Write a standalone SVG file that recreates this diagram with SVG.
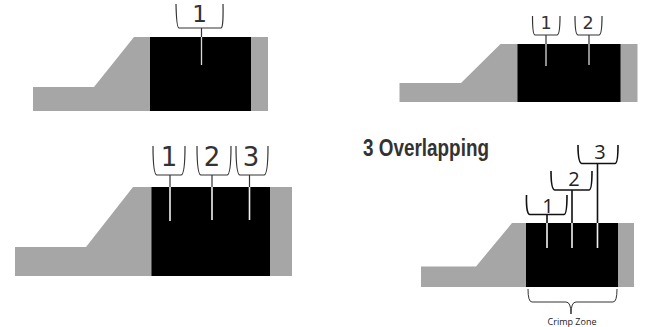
<svg xmlns="http://www.w3.org/2000/svg" width="645" height="327" viewBox="0 0 645 327">
<style>
.g{fill:#a6a6a6}
.b{fill:#000}
.w{stroke:#d9d9d9;stroke-width:1.3;fill:none}
.w2{stroke:#f0f0f0;stroke-width:1.6;fill:none}
.s{stroke:#333;stroke-width:1.2;fill:none}
.k{stroke:#111;stroke-width:1.6;fill:none}
.c{stroke:#333;stroke-width:1;fill:none}
.d{font-family:"DejaVu Sans",sans-serif;fill:#333;text-anchor:middle}
.o{font-family:"Open Sans",sans-serif;fill:#222;text-anchor:middle}
</style>
<rect width="645" height="327" fill="#fff"/>
<g id="crimp-1">
<path class="g" d="M33 87H94L134 37H268V111H33Z"/>
<rect class="b" x="150" y="37" width="101" height="74"/>
<path class="w" d="M201.500 37V65"/>
</g>
<g id="crimp-2">
<path class="g" d="M399.500 83H461L500.500 44H637.500V102H399.500Z"/>
<rect class="b" x="517.500" y="44" width="103" height="58"/>
<path class="w" d="M546 44V66M589 44V65"/>
</g>
<g id="crimp-3">
<path class="g" d="M15 247H86L133 187H292V276H15Z"/>
<rect class="b" x="151.500" y="187" width="118.500" height="89"/>
<path class="w2" d="M170 187V221M212 187V220M249.500 187V220"/>
</g>
<g id="crimp-4">
<path class="g" d="M421 266.500H476L512 223H634V287H421Z"/>
<rect class="b" x="526" y="223" width="92" height="64"/>
<path class="w2" d="M547 223V248M572 223V248M597.500 223V248"/>
</g>
<g id="connectors">
<path class="s" d="M176 4Q176.500 28 179 28H221Q223.500 28 223 4M201.500 28V37"/>
<path class="s" d="M532.500 16Q532.500 35 535 35H557Q560 35 560 16M546 35V44"/>
<path class="s" d="M575 16Q575 35 578 35H599Q602 35 602 16M589 35V44"/>
<path class="s" d="M153 146Q153 175 157 175H181Q185 175 185 146M170 175V187"/>
<path class="s" d="M197 146Q197 175 201 175H227Q231 175 231 146M212 175V187"/>
<path class="s" d="M236 146Q236 175 240 175H264Q268 175 268 146M249.500 175V187"/>
<path class="k" d="M526.500 195Q526 214.500 530 214.500H564Q567 214.500 567 195M547 214.500V223"/>
<path class="k" d="M551 171Q551 190 555 190H589Q592 190 592 171M572 190V223"/>
<path class="k" d="M578 145Q578 163.500 582 163.500H615Q618 163.500 618 145M597.500 163.500V223"/>
<path class="c" d="M528 289Q528 302 532 302H566Q571 302 571 314Q571 302 576 302H613Q617 302 617 289"/>
</g>
<g id="labels">
<text class="d" x="199.500" y="22" font-size="23">1</text>
<text class="d" x="546" y="29" font-size="17.500">1</text>
<text class="d" x="588" y="29" font-size="17.500">2</text>
<text class="d" x="169" y="166" font-size="26">1</text>
<text class="d" x="212" y="166" font-size="26">2</text>
<text class="d" x="251" y="166" font-size="26">3</text>
<text class="o" x="548" y="213" font-size="20">1</text>
<text class="o" x="574" y="186" font-size="20">2</text>
<text class="o" x="600" y="159" font-size="20">3</text>
<text x="363" y="156" font-family="'Liberation Sans',Arial,sans-serif" font-weight="700" font-size="23" fill="#333" textLength="126" lengthAdjust="spacingAndGlyphs">3 Overlapping</text>
<text class="o" x="572" y="325" font-size="9" fill="#444">Crimp Zone</text>
</g>
</svg>
